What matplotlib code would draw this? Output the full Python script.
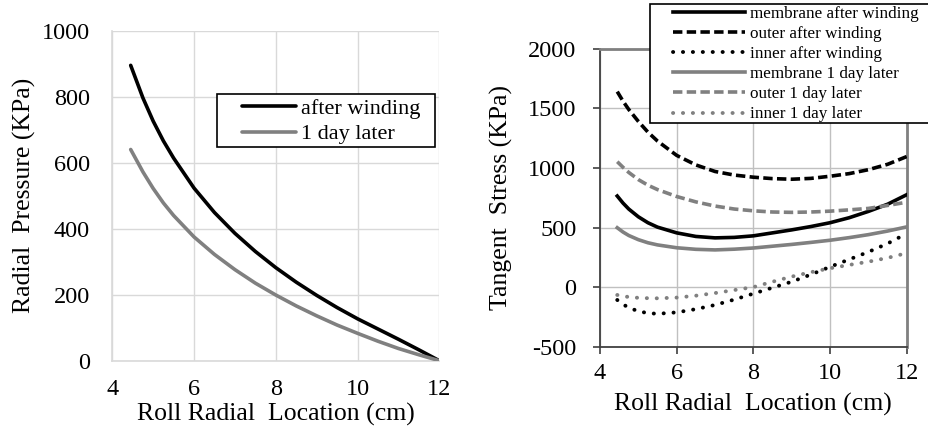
import matplotlib
matplotlib.use("Agg")
import matplotlib.pyplot as plt
from matplotlib.patches import Rectangle

plt.rcParams["font.family"] = ["Liberation Serif", "DejaVu Serif"]
plt.rcParams["axes.unicode_minus"] = False

# Radial pressure across the roll
r_pressure = [4.45, 4.75, 5.0, 5.25, 5.5, 6.0, 6.5, 7.0, 7.5, 8.0, 8.5, 9.0,
              9.5, 10.0, 10.5, 11.0, 11.5, 12.0]
p_after_winding = [895, 796, 726, 666, 614, 523, 449, 386, 331, 282, 238, 198,
                   161, 127, 96, 65, 33, 0]
p_one_day = [640, 572, 522, 478, 440, 375, 322, 276, 235, 199, 166, 136,
             108, 83, 59, 37, 18, 0]

# Tangential stress across the roll
r_stress = [4.45, 4.6, 4.75, 5.0, 5.25, 5.5, 6.0, 6.5, 7.0, 7.5, 8.0, 8.5,
            9.0, 9.5, 10.0, 10.5, 11.0, 11.5, 12.0]
membrane_after = [764, 705, 655, 590, 540, 503, 455, 425, 413, 417, 430, 455,
                  480, 508, 540, 582, 635, 695, 775]
outer_after = [1640, 1560, 1490, 1390, 1300, 1225, 1105, 1025, 970, 940, 922,
               910, 905, 912, 930, 952, 985, 1030, 1095]
inner_after = [-108, -145, -172, -203, -218, -224, -212, -185, -150, -105,
               -55, -5, 45, 105, 170, 232, 295, 365, 450]
membrane_day = [498, 462, 433, 398, 372, 354, 330, 317, 312, 318, 328, 343,
                358, 375, 393, 415, 440, 470, 505]
outer_day = [1052, 1005, 962, 902, 855, 818, 760, 715, 680, 655, 640, 630,
             627, 630, 637, 648, 660, 685, 712]
inner_day = [-66, -76, -83, -90, -93, -94, -88, -72, -50, -25, 0, 45, 88,
             125, 158, 186, 213, 245, 285]

x_ticks = [4, 6, 8, 10, 12]
p_ticks = [0, 200, 400, 600, 800, 1000]
s_ticks = [-500, 0, 500, 1000, 1500, 2000]

GRAY = "#808080"
GRID = "#d9d9d9"
FS = 17.5
LFS = 18.5
W, H = 929, 429


def fig_box(x0, y0, x1, y1):
    """Rectangle given in pixels from the top-left corner, in figure fractions."""
    return (x0 / W, 1 - y1 / H), (x1 - x0) / W, (y1 - y0) / H


fig = plt.figure(figsize=(W / 100, H / 100), dpi=100)

# ---- Left panel: radial pressure ----
ax1 = fig.add_axes([112.3 / W, 68.3 / H, 327 / W, 330 / H])
l1a, = ax1.plot(r_pressure, p_after_winding, color="black", lw=2.6,
                solid_capstyle="round", zorder=3)
l1b, = ax1.plot(r_pressure, p_one_day, color=GRAY, lw=2.6,
                solid_capstyle="round", zorder=3)
ax1.set_xlim(4, 12)
ax1.set_ylim(0, 1000)
ax1.set_xticks(x_ticks)
ax1.set_yticks(p_ticks)
ax1.grid(True, color=GRID, lw=1.0)
ax1.set_axisbelow(True)
for s in ax1.spines.values():
    s.set_visible(False)
for side in ("left", "bottom"):
    ax1.spines[side].set_visible(True)
    ax1.spines[side].set_color(GRID)
    ax1.spines[side].set_linewidth(1.2)
ax1.tick_params(axis="both", length=0, labelsize=FS)
ax1.tick_params(axis="y", pad=16)
ax1.tick_params(axis="x", pad=13)
ax1.set_xlabel("Roll Radial  Location (cm)", fontsize=LFS, labelpad=2)
ax1.set_ylabel("Radial  Pressure (KPa)", fontsize=LFS, labelpad=4)

xy, w, h = fig_box(217, 94, 435, 147)
fig.add_artist(Rectangle(xy, w, h, transform=fig.transFigure,
                         facecolor="white", edgecolor="black", lw=1.2,
                         zorder=5))
leg1 = fig.legend([l1a, l1b], ["after winding", "1 day later"],
                  loc="upper left", bbox_to_anchor=(242 / W, 1 - 98 / H),
                  fontsize=16, frameon=False, handlelength=2.45,
                  handletextpad=0.2, borderpad=0, labelspacing=0.24,
                  borderaxespad=0)
leg1.set_zorder(6)

# ---- Right panel: tangent stress ----
ax2 = fig.add_axes([600 / W, 82.3 / H, 306.7 / W, 298 / H])
DASH = (0, (2.6, 1.2))
DOT = (0, (0.05, 2.5))
series = [
    (membrane_after, "black", "-", "membrane after winding"),
    (outer_after, "black", DASH, "outer after winding"),
    (inner_after, "black", DOT, "inner after winding"),
    (membrane_day, GRAY, "-", "membrane 1 day later"),
    (outer_day, GRAY, DASH, "outer 1 day later"),
    (inner_day, GRAY, DOT, "inner 1 day later"),
]
handles, labels = [], []
for vals, col, ls, lab in series:
    ln, = ax2.plot(r_stress, vals, color=col, linestyle=ls,
                   lw=2.8 if ls is DOT else 2.6, dash_capstyle="round"
                   if ls is DOT else "butt", zorder=3)
    handles.append(ln)
    labels.append(lab)
ax2.set_xlim(4, 12)
ax2.set_ylim(-500, 2000)
ax2.set_xticks(x_ticks)
ax2.set_yticks(s_ticks)
ax2.grid(True, color="#c0c0c0", lw=1.0)
ax2.set_axisbelow(True)
for side in ("left", "bottom"):
    ax2.spines[side].set_color("#404040")
    ax2.spines[side].set_linewidth(1.3)
for side in ("top", "right"):
    ax2.spines[side].set_color(GRAY)
    ax2.spines[side].set_linewidth(2.0)
ax2.tick_params(axis="both", direction="out", length=5, width=1.2,
                color="#404040", labelsize=FS)
ax2.tick_params(axis="y", pad=12)
ax2.tick_params(axis="x", pad=7)
ax2.set_xlabel("Roll Radial  Location (cm)", fontsize=LFS, labelpad=6.5)
ax2.set_ylabel("Tangent  Stress (KPa)", fontsize=LFS, labelpad=11)

xy, w, h = fig_box(650, 4, 935, 123)
fig.add_artist(Rectangle(xy, w, h, transform=fig.transFigure,
                         facecolor="white", edgecolor="black", lw=1.2,
                         zorder=5))
leg2 = fig.legend(handles, labels, loc="upper left",
                  bbox_to_anchor=(673 / W, 1 - 6 / H), fontsize=12.3,
                  frameon=False, handlelength=4.2, handletextpad=0.3,
                  borderpad=0, labelspacing=0.24, borderaxespad=0)
leg2.set_zorder(6)

fig.savefig("out.png", dpi=100, facecolor="white")
